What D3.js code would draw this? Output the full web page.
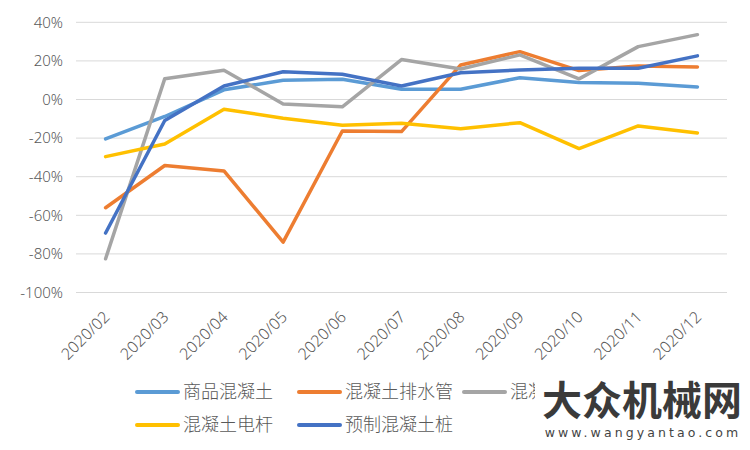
<!DOCTYPE html>
<html>
<head>
<meta charset="utf-8">
<script src="https://cdn.jsdelivr.net/npm/d3@7"></script>
<style>
  body { margin: 0; background: #fff; }
  svg text { font-family: "Noto Sans", "Noto Sans CJK SC", sans-serif; fill: #595959; font-weight: 300; }
  .legend text { font-family: "Noto Sans CJK SC", sans-serif; }
</style>
</head>
<body>
<svg id="chart" width="750" height="450"></svg>
<script>
const months = ["2020/02","2020/03","2020/04","2020/05","2020/06","2020/07","2020/08","2020/09","2020/10","2020/11","2020/12"];
const yTicks = [40, 20, 0, -20, -40, -60, -80, -100];

const seriesNames = ["商品混凝土", "混凝土排水管", "混凝土压力管", "混凝土电杆", "预制混凝土桩"];
const seriesColors = ["#5b9bd5", "#ed7d31", "#a5a5a5", "#ffc000", "#4472c4"];

const shangpin   = [-20.4, -8.8, 5.0, 10.0, 10.5, 5.3, 5.3, 11.3, 8.8, 8.4, 6.5];
const paishuiguan = [-56.1, -34.2, -37.0, -73.9, -16.3, -16.6, 17.9, 24.8, 15.0, 17.4, 16.9];
const yaliguan   = [-82.5, 10.8, 15.2, -2.3, -3.8, 20.7, 15.8, 23.1, 10.7, 27.4, 33.6];
const dianGan    = [-29.6, -23.1, -5.0, -9.7, -13.3, -12.3, -15.1, -12.0, -25.4, -13.7, -17.3];
const yuzhiZhuang = [-69.2, -10.9, 7.0, 14.4, 13.1, 7.0, 13.9, 15.3, 16.2, 16.2, 22.6];

const seriesValues = [shangpin, paishuiguan, yaliguan, dianGan, yuzhiZhuang];

const svg = d3.select("#chart");

const x = d3.scalePoint().domain(months).range([76, 727]).padding(0.5);
const y = d3.scaleLinear().domain([-100, 40]).range([292.5, 22.3]);

// gridlines
svg.append("g")
  .selectAll("line")
  .data(yTicks)
  .join("line")
  .attr("x1", 76).attr("x2", 727)
  .attr("y1", d => y(d)).attr("y2", d => y(d))
  .attr("stroke", "#d9d9d9")
  .attr("stroke-width", 1);

// y labels
const yAxis = d3.axisLeft(y).tickValues(yTicks).tickSize(0).tickPadding(0)
  .tickFormat(d => d + "%");
const ay = svg.append("g").attr("transform", "translate(63,0)").call(yAxis);
ay.select(".domain").remove();
ay.selectAll("text").attr("font-size", 15).attr("fill", "#595959")
  .style("font-family", "'Noto Sans', sans-serif");

// x labels
svg.append("g")
  .selectAll("text")
  .data(months)
  .join("text")
  .attr("transform", d => `translate(${x(d) + 5},318) rotate(-45)`)
  .attr("text-anchor", "end")
  .attr("font-size", 16)
  .text(d => d);

// lines
const line = d3.line()
  .x((d, i) => x(months[i]))
  .y(d => y(d));

svg.append("g")
  .selectAll("path")
  .data(seriesValues)
  .join("path")
  .attr("d", d => line(d))
  .attr("fill", "none")
  .attr("stroke", (d, i) => seriesColors[i])
  .attr("stroke-width", 3.5)
  .attr("stroke-linejoin", "round")
  .attr("stroke-linecap", "round");

// legend (the watermark hides the end of the third entry)
svg.append("clipPath").attr("id", "legendClip")
  .append("rect").attr("x", 0).attr("y", 360).attr("width", 535).attr("height", 90);

const legendPos = [[137, 392], [299, 392], [464, 392], [137, 425], [299, 425]];
const lg = svg.append("g").attr("class", "legend")
  .attr("clip-path", "url(#legendClip)")
  .selectAll("g")
  .data(seriesNames)
  .join("g")
  .attr("transform", (d, i) => `translate(${legendPos[i][0]},${legendPos[i][1]})`);
lg.append("line")
  .attr("x1", 0).attr("x2", 41)
  .attr("stroke", (d, i) => seriesColors[i])
  .attr("stroke-width", 4)
  .attr("stroke-linecap", "round");
lg.append("text")
  .attr("x", 46).attr("y", 0)
  .attr("dy", "0.35em")
  .attr("font-size", 18)
  .text(d => d);

// watermark
svg.append("text")
  .attr("x", 642).attr("y", 415)
  .attr("text-anchor", "middle")
  .attr("font-size", 40)
  .attr("font-weight", "bold")
  .style("font-family", "'Noto Sans CJK SC', sans-serif")
  .style("font-weight", "bold")
  .style("fill", "#3a3a3a")
  .text("大众机械网");
svg.append("text")
  .attr("x", 643).attr("y", 437)
  .attr("text-anchor", "middle")
  .attr("font-size", 12.5)
  .attr("letter-spacing", 3.1)
  .style("font-family", "'DejaVu Sans', sans-serif")
  .style("font-weight", "normal")
  .style("fill", "#444")
  .text("www.wangyantao.com");
</script>
</body>
</html>
